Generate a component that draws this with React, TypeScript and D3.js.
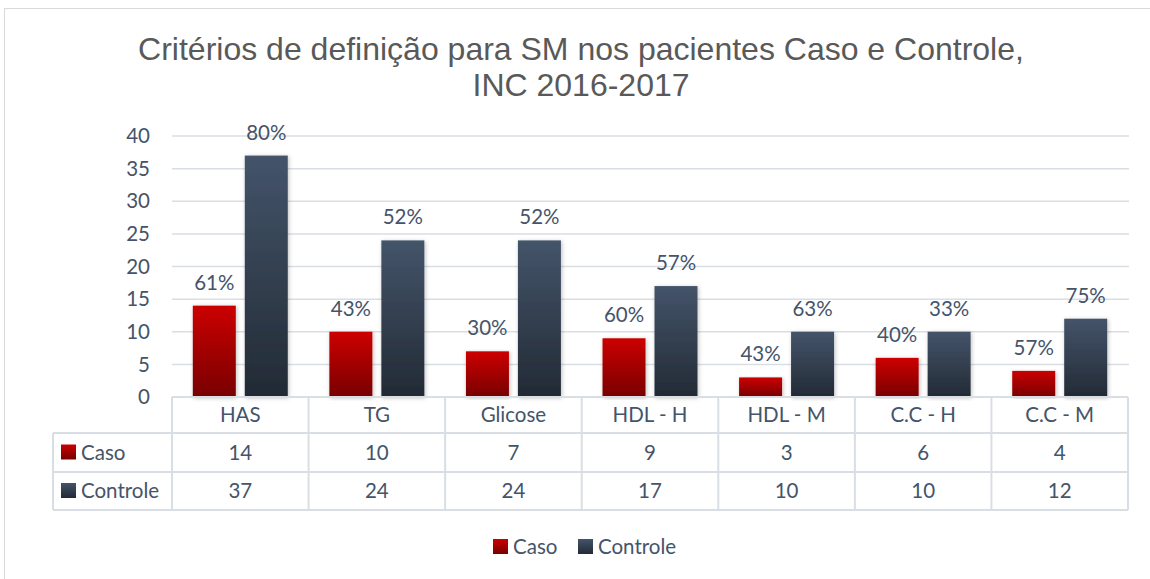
import React from "react";
import * as d3 from "d3";

const categories = ["HAS", "TG", "Glicose", "HDL - H", "HDL - M", "C.C - H", "C.C - M"];
const series = ["Caso", "Controle"];
const casoValues = [14, 10, 7, 9, 3, 6, 4];
const controleValues = [37, 24, 24, 17, 10, 10, 12];
const casoPct = ["61%", "43%", "30%", "60%", "43%", "40%", "57%"];
const controlePct = ["80%", "52%", "52%", "57%", "63%", "33%", "75%"];
const yTicks = [0, 5, 10, 15, 20, 25, 30, 35, 40];

const W = 1150;
const H = 579;
const left = 172;
const right = 1128;
const top = 136;
const bottom = 397;
const rowH = [36, 39, 38];

const labelFont = "Lato, 'Open Sans', sans-serif";
const textColor = "#44546A";
const fs = 20.5;

export default function App() {
  const x = d3.scaleBand<string>().domain(categories).range([left, right]);
  const cw = x.bandwidth();
  const x1 = d3.scaleBand<string>().domain(series).range([20.8, cw - 20.8]).paddingInner(0.173);
  const y = d3.scaleLinear().domain([0, 40]).range([bottom, top]);

  const rows = [
    { name: "Caso", values: casoValues, pct: casoPct, fill: "url(#gCaso)" },
    { name: "Controle", values: controleValues, pct: controlePct, fill: "url(#gCtrl)" },
  ];

  const r1 = bottom + rowH[0];
  const r2 = r1 + rowH[1];
  const r3 = r2 + rowH[2];
  const tableLeft = 53;
  const grid = "#D9DEE4";

  return (
    <svg width={W} height={H} style={{ position: "fixed", left: 0, top: 0, background: "#fff" }}>
      <defs>
        <linearGradient id="gCaso" x1="0" y1="0" x2="0" y2="1">
          <stop offset="0" stopColor="#CC0000" />
          <stop offset="1" stopColor="#780000" />
        </linearGradient>
        <linearGradient id="gCtrl" x1="0" y1="0" x2="0" y2="1">
          <stop offset="0" stopColor="#44546A" />
          <stop offset="1" stopColor="#222A35" />
        </linearGradient>
        <filter id="sh" x="-20%" y="-5%" width="140%" height="110%">
          <feDropShadow dx="1" dy="1" stdDeviation="2" floodColor="#000" floodOpacity="0.25" />
        </filter>
      </defs>
      <rect x={4.5} y={8.5} width={1160} height={600} fill="#fff" stroke="#D9D9D9" />

      <text x={581} y={60} textAnchor="middle" fontFamily="'Liberation Sans', Arial, sans-serif" fontSize={32} fill="#595959">
        Critérios de definição para SM nos pacientes Caso e Controle,
      </text>
      <text x={581} y={96} textAnchor="middle" fontFamily="'Liberation Sans', Arial, sans-serif" fontSize={32} fill="#595959">
        INC 2016-2017
      </text>

      {yTicks.map((t) => (
        <g key={t}>
          {t > 0 && <line x1={left} x2={right + 1} y1={y(t)} y2={y(t)} stroke={grid} strokeWidth={1.5} />}
          <text x={150} y={y(t)} dy="0.35em" textAnchor="end" fontFamily={labelFont} fontSize={fs} fill={textColor}>
            {t}
          </text>
        </g>
      ))}

      {rows.map((s) =>
        categories.map((c, i) => {
          const bx = (x(c) as number) + (x1(s.name) as number);
          const by = y(s.values[i]);
          return (
            <g key={s.name + c}>
              <rect x={bx} y={by} width={x1.bandwidth()} height={bottom - by} fill={s.fill} filter="url(#sh)" />
              <text x={bx + x1.bandwidth() / 2} y={by - 16} textAnchor="middle" fontFamily={labelFont} fontSize={fs} fill={textColor}>
                {s.pct[i]}
              </text>
            </g>
          );
        })
      )}

      {/* data table */}
      <line x1={left} x2={right} y1={bottom} y2={bottom} stroke={grid} strokeWidth={2} />
      <line x1={tableLeft} x2={right} y1={r1} y2={r1} stroke={grid} strokeWidth={2} />
      <line x1={tableLeft} x2={right} y1={r2} y2={r2} stroke={grid} strokeWidth={2} />
      <line x1={tableLeft} x2={right} y1={r3} y2={r3} stroke={grid} strokeWidth={2} />
      <line x1={tableLeft} x2={tableLeft} y1={r1} y2={r3} stroke={grid} strokeWidth={2} />
      {categories.map((c) => (
        <line key={"v" + c} x1={x(c)} x2={x(c)} y1={bottom} y2={r3} stroke={grid} strokeWidth={2} />
      ))}
      <line x1={right} x2={right} y1={bottom} y2={r3} stroke={grid} strokeWidth={2} />
      {categories.map((c) => (
        <text key={"h" + c} x={(x(c) as number) + cw / 2} y={(bottom + r1) / 2} dy="0.35em" textAnchor="middle" fontFamily={labelFont} fontSize={fs} fill={textColor}>
          {c}
        </text>
      ))}
      {rows.map((s, k) => {
        const cy = k === 0 ? (r1 + r2) / 2 : (r2 + r3) / 2;
        return (
          <g key={"row" + s.name}>
            <rect x={61} y={cy - 8} width={15} height={15} fill={s.fill} />
            <text x={81} y={cy} dy="0.35em" fontFamily={labelFont} fontSize={fs} fill={textColor}>
              {s.name}
            </text>
            {categories.map((c, i) => (
              <text key={c} x={(x(c) as number) + cw / 2} y={cy} dy="0.35em" textAnchor="middle" fontFamily={labelFont} fontSize={fs} fill={textColor}>
                {s.values[i]}
              </text>
            ))}
          </g>
        );
      })}

      {/* legend */}
      {rows.map((s, k) => {
        const lx = k === 0 ? 493 : 578;
        return (
          <g key={"lg" + s.name}>
            <rect x={lx} y={539} width={15} height={15} fill={s.fill} />
            <text x={lx + 20} y={547} dy="0.35em" fontFamily={labelFont} fontSize={fs} fill={textColor}>
              {s.name}
            </text>
          </g>
        );
      })}
    </svg>
  );
}
